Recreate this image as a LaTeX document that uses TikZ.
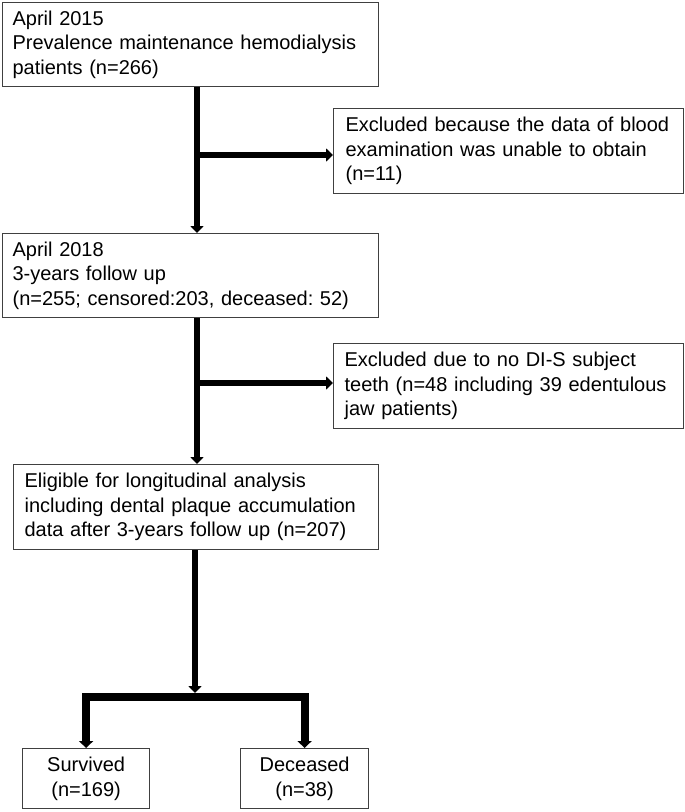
\documentclass[tikz,border=0pt]{standalone}
\usepackage{fontspec}
\setmainfont{Liberation Sans}
\usetikzlibrary{arrows.meta}
\begin{document}
\begin{tikzpicture}[x=1pt,y=-1pt,
  box/.style={draw=black!75, line width=1.2pt, anchor=north west, inner xsep=10pt, inner ysep=0pt,
    font=\fontsize{20pt}{24.5pt}\selectfont\frenchspacing, align=left},
  cbox/.style={box, align=center, inner xsep=2pt},
  flow/.style={line width=6.5pt, -{Triangle[width=13pt,length=7pt]}, line join=miter},
  split/.style={line width=8pt, {Triangle[width=14pt,length=7pt]}-{Triangle[width=14pt,length=7pt]}, line join=miter}
  ]
\useasboundingbox (0,0) rectangle (685,812);
\node[box, minimum width=376pt, minimum height=84pt, text width=356pt] (b1) at (2,2)
  {April 2015\\Prevalence maintenance hemodialysis\\patients (n=266)};
\node[box, inner xsep=12pt, minimum width=350pt, minimum height=85pt, text width=326pt] (ex1) at (333,108)
  {Excluded because the data of blood\\examination was unable to obtain\\(n=11)};
\node[box, minimum width=376pt, minimum height=84pt, text width=356pt] (b2) at (2,233)
  {April 2018\\3-years follow up\\(n=255; censored:203, deceased: 52)};
\node[box, inner xsep=11pt, minimum width=350pt, minimum height=85pt, text width=328pt] (ex2) at (333,343)
  {Excluded due to no DI-S subject\\teeth (n=48 including 39 edentulous\\jaw patients)};
\node[box, inner xsep=11pt, minimum width=365pt, minimum height=85pt, text width=343pt] (b3) at (13,464)
  {Eligible for longitudinal analysis\\including dental plaque accumulation\\data after 3-years follow up (n=207)};
\node[cbox, minimum width=127pt, minimum height=60pt] (s) at (22,748) {Survived\\(n=169)};
\node[cbox, minimum width=128pt, minimum height=60pt] (d) at (240,748) {Deceased\\(n=38)};

\coordinate (j1) at (197,155);
\coordinate (j2) at (197,383);
\coordinate (j3) at (195,697);
\coordinate (j4) at (195,693);

\draw[flow] (j1 |- b1.south) -- (j1 |- b2.north);
\draw[flow] (j1) -- (j1 -| ex1.west);
\draw[flow] (j2 |- b2.south) -- (j2 |- b3.north);
\draw[flow] (j2) -- (j2 -| ex2.west);
\draw[flow] (j4 |- b3.south) -- (j4);
\draw[split] (s.north) |- (j3) -| (d.north);
\end{tikzpicture}
\end{document}
